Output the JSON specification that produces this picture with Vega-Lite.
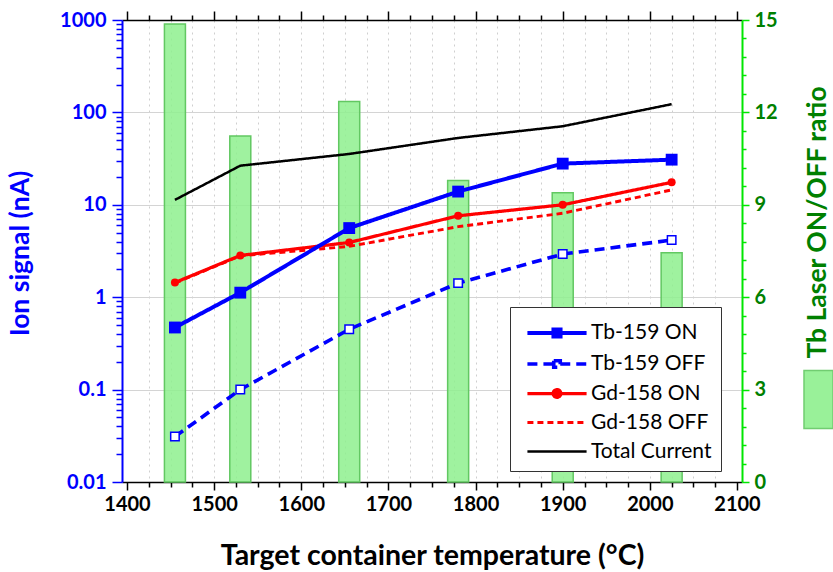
{
  "$schema": "https://vega.github.io/schema/vega-lite/v6.json",
  "width": 620,
  "height": 462,
  "autosize": {"type": "none"},
  "padding": {"left": 122, "top": 20, "right": 91, "bottom": 90},
  "background": "white",
  "config": {
    "font": "Lato",
    "view": {"stroke": null},
    "axis": {"labelFont": "Lato", "titleFont": "Lato"},
    "legend": {"labelFont": "Lato"}
  },
  "datasets": {
    "lines": [
      {"T": 1455, "series": "Tb-159 ON", "value": 0.47},
      {"T": 1530, "series": "Tb-159 ON", "value": 1.12},
      {"T": 1655, "series": "Tb-159 ON", "value": 5.6},
      {"T": 1780, "series": "Tb-159 ON", "value": 13.9},
      {"T": 1900, "series": "Tb-159 ON", "value": 27.9},
      {"T": 2025, "series": "Tb-159 ON", "value": 30.8},
      {"T": 1455, "series": "Tb-159 OFF", "value": 0.031},
      {"T": 1530, "series": "Tb-159 OFF", "value": 0.1},
      {"T": 1655, "series": "Tb-159 OFF", "value": 0.45},
      {"T": 1780, "series": "Tb-159 OFF", "value": 1.42},
      {"T": 1900, "series": "Tb-159 OFF", "value": 2.93},
      {"T": 2025, "series": "Tb-159 OFF", "value": 4.15},
      {"T": 1455, "series": "Gd-158 ON", "value": 1.44},
      {"T": 1530, "series": "Gd-158 ON", "value": 2.83},
      {"T": 1655, "series": "Gd-158 ON", "value": 3.91},
      {"T": 1780, "series": "Gd-158 ON", "value": 7.6},
      {"T": 1900, "series": "Gd-158 ON", "value": 10},
      {"T": 2025, "series": "Gd-158 ON", "value": 17.5},
      {"T": 1455, "series": "Gd-158 OFF", "value": 1.42},
      {"T": 1530, "series": "Gd-158 OFF", "value": 2.8},
      {"T": 1655, "series": "Gd-158 OFF", "value": 3.55},
      {"T": 1780, "series": "Gd-158 OFF", "value": 5.8},
      {"T": 1900, "series": "Gd-158 OFF", "value": 8.1},
      {"T": 2025, "series": "Gd-158 OFF", "value": 14.5},
      {"T": 1455, "series": "Total Current", "value": 11.3},
      {"T": 1530, "series": "Total Current", "value": 26.5},
      {"T": 1655, "series": "Total Current", "value": 35.5},
      {"T": 1780, "series": "Total Current", "value": 52.9},
      {"T": 1900, "series": "Total Current", "value": 70.8},
      {"T": 2025, "series": "Total Current", "value": 122.7}
    ],
    "ratio": [
      {"T": 1455, "ratio": 14.87},
      {"T": 1530, "ratio": 11.23},
      {"T": 1655, "ratio": 12.35},
      {"T": 1780, "ratio": 9.79},
      {"T": 1900, "ratio": 9.39},
      {"T": 2025, "ratio": 7.44}
    ]
  },
  "layer": [
    {
      "data": {"name": "ratio"},
      "mark": {"type": "bar", "orient": "vertical", "size": 21, "stroke": "#62c862", "strokeWidth": 1.5, "fillOpacity": 0.85},
      "encoding": {
        "x": {"field": "T", "type": "quantitative", "scale": {"domain": [1400, 2100], "nice": false, "zero": false}, "axis": null},
        "y": {
          "field": "ratio", "type": "quantitative",
          "scale": {"domain": [0, 15], "nice": false, "zero": true},
          "axis": {
            "orient": "right",
            "values": [0, 0.6, 1.2, 1.8, 2.4, 3, 3.6, 4.2, 4.8, 5.4, 6, 6.6, 7.2, 7.8, 8.4, 9, 9.6, 10.2, 10.8, 11.4, 12, 12.6, 13.2, 13.8, 14.4, 15],
            "format": "~g",
            "labelExpr": "datum.value % 3 === 0 ? datum.label : ''",
            "labelOverlap": false,
            "labelFlush": false,
            "tickSize": {"condition": {"test": "datum.value % 3 === 0", "value": 7}, "value": 4},
            "domainColor": "#00e600", "domainWidth": 2,
            "tickColor": "#00e600", "tickWidth": 1.5,
            "labelColor": "#008000", "labelFontSize": 20, "labelFontWeight": "bold", "labelPadding": 5,
            "grid": false,
            "title": "Tb Laser ON/OFF ratio",
            "titleColor": "#008000", "titleFontSize": 26.5, "titleFontWeight": "bold",
            "titleAngle": 270, "titleX": 75, "titleY": 202, "titleAlign": "center", "titleBaseline": "middle"
          }
        },
        "fill": {
          "datum": "Tb Laser ON/OFF ratio", "type": "nominal",
          "scale": {"range": ["#8ef08e"]},
          "legend": {
            "orient": "none", "legendX": 681, "legendY": 364, "title": null,
            "labelExpr": "''", "labelOffset": 0,
            "symbolType": "M-1,-2H1V2H-1Z", "symbolSize": 841,
            "symbolStrokeColor": "#62c862", "symbolStrokeWidth": 1.5, "symbolOpacity": 0.9,
            "padding": 0
          }
        }
      }
    },
    {
      "data": {"name": "lines"},
      "transform": [{"filter": "datum.series === 'Total Current'"}],
      "mark": {"type": "line"},
      "encoding": {
        "x": {
          "field": "T", "type": "quantitative",
          "scale": {"domain": [1400, 2100], "nice": false, "zero": false},
          "axis": {
            "orient": "bottom",
            "values": [1400, 1425, 1450, 1475, 1500, 1525, 1550, 1575, 1600, 1625, 1650, 1675, 1700, 1725, 1750, 1775, 1800, 1825, 1850, 1875, 1900, 1925, 1950, 1975, 2000, 2025, 2050, 2075, 2100],
            "format": "d",
            "labelExpr": "datum.value % 100 === 0 ? datum.label : ''",
            "labelFlush": false, "labelOverlap": false,
            "tickSize": {"condition": {"test": "datum.value % 100 === 0", "value": 8}, "value": 5},
            "tickColor": "black", "tickWidth": 1.5,
            "domainColor": "black", "domainWidth": 1.5,
            "grid": true, "gridDash": [2, 4], "gridColor": "#cfcfcf",
            "gridOpacity": {"condition": {"test": "datum.value > 1400 && datum.value < 2100", "value": 1}, "value": 0},
            "labelFontSize": 20, "labelFontWeight": "bold", "labelColor": "black", "labelPadding": 4,
            "title": "Target container temperature (°C)",
            "titleFontSize": 28.5, "titleFontWeight": "bold", "titleColor": "black",
            "titleY": 73, "titleBaseline": "middle"
          }
        },
        "y": {
          "field": "value", "type": "quantitative",
          "scale": {"type": "log", "domain": [0.01, 1000], "nice": false},
          "axis": {
            "orient": "left",
            "values": [0.01, 0.02, 0.03, 0.04, 0.05, 0.06, 0.07, 0.08, 0.09, 0.1, 0.2, 0.3, 0.4, 0.5, 0.6, 0.7, 0.8, 0.9, 1, 2, 3, 4, 5, 6, 7, 8, 9, 10, 20, 30, 40, 50, 60, 70, 80, 90, 100, 200, 300, 400, 500, 600, 700, 800, 900, 1000],
            "format": "~g",
            "labelExpr": "indexof([0.01, 0.1, 1, 10, 100, 1000], datum.value) >= 0 ? datum.label : ''",
            "labelOverlap": false, "labelFlush": false,
            "tickSize": {"condition": {"test": "indexof([0.01, 0.1, 1, 10, 100, 1000], datum.value) >= 0", "value": 10}, "value": 6},
            "grid": true, "gridColor": "#d4d4d4", "gridWidth": 1,
            "gridOpacity": {"condition": {"test": "indexof([0.1, 1, 10, 100], datum.value) >= 0", "value": 1}, "value": 0},
            "domainColor": "#0000ff", "domainWidth": 2,
            "tickColor": "#0000ff", "tickWidth": 1.5,
            "labelColor": "#0000ff", "labelFontSize": 20, "labelFontWeight": "bold", "labelPadding": 6,
            "title": "Ion signal (nA)",
            "titleColor": "#0000ff", "titleFontSize": 26.5, "titleFontWeight": "bold",
            "titleX": -102, "titleY": 233, "titleAngle": 270, "titleAlign": "center", "titleBaseline": "middle"
          }
        },
        "color": {
          "field": "series", "type": "nominal",
          "scale": {"domain": ["Tb-159 ON", "Tb-159 OFF", "Gd-158 ON", "Gd-158 OFF", "Total Current"], "range": ["#0000ff", "#0000ff", "#ff0000", "#ff0000", "#000000"]},
          "legend": {
            "orient": "none", "legendX": 388, "legendY": 287, "title": null,
            "direction": "vertical",
            "symbolType": "stroke", "symbolSize": 875, "symbolOpacity": 1,
            "labelFontSize": 21, "labelColor": "black", "labelOffset": 17,
            "padding": 9, "symbolOffset": 21,
            "strokeColor": "#333333", "fillColor": "white",
            "rowPadding": 2,
            "encode": {
              "symbols": {
                "update": {
                  "shape": [
                    {"test": "datum.value === 'Tb-159 ON'", "value": "M-2,0H2M-0.24,-0.24H0.24V0.24H-0.24Z"},
                    {"test": "datum.value === 'Tb-159 OFF'", "value": "M-2,0H-0.22M0.22,0H2M-0.22,-0.22H0.22V0.22H-0.22Z"},
                    {"test": "datum.value === 'Gd-158 ON'", "value": "M-2,0H-0.26M0.26,0H2M-0.26,0A0.26,0.26,0,1,0,0.26,0A0.26,0.26,0,1,0,-0.26,0Z"},
                    {"value": "M-2,0H2"}
                  ],
                  "fill": [
                    {"test": "datum.value === 'Tb-159 ON'", "value": "#0000ff"},
                    {"test": "datum.value === 'Tb-159 OFF'", "value": "#ffffff"},
                    {"test": "datum.value === 'Gd-158 ON'", "value": "#ff0000"},
                    {"value": "transparent"}
                  ],
                  "fillOpacity": {"value": 1}
                }
              }
            }
          }
        },
        "strokeDash": {
          "field": "series", "type": "nominal",
          "scale": {"domain": ["Tb-159 ON", "Tb-159 OFF", "Gd-158 ON", "Gd-158 OFF", "Total Current"], "range": [[1, 0], [10, 6], [1, 0], [6, 4], [1, 0]]}
        },
        "strokeWidth": {
          "field": "series", "type": "nominal",
          "scale": {"domain": ["Tb-159 ON", "Tb-159 OFF", "Gd-158 ON", "Gd-158 OFF", "Total Current"], "range": [4, 2.5, 1.5, 1.2, 2]}
        }
      }
    },
    {
      "data": {"name": "lines"},
      "transform": [{"filter": "datum.series === 'Gd-158 OFF'"}],
      "mark": {"type": "line"},
      "encoding": {
        "x": {
          "field": "T", "type": "quantitative",
          "scale": {"domain": [1400, 2100], "nice": false, "zero": false},
          "axis": {
            "orient": "top",
            "values": [1400, 1425, 1450, 1475, 1500, 1525, 1550, 1575, 1600, 1625, 1650, 1675, 1700, 1725, 1750, 1775, 1800, 1825, 1850, 1875, 1900, 1925, 1950, 1975, 2000, 2025, 2050, 2075, 2100],
            "labels": false, "title": null, "grid": false,
            "tickSize": {"condition": {"test": "datum.value % 100 === 0", "value": 9}, "value": 5},
            "tickColor": "black", "tickWidth": 1.5,
            "domainColor": "black", "domainWidth": 1.5
          }
        },
        "y": {"field": "value", "type": "quantitative", "scale": {"type": "log", "domain": [0.01, 1000], "nice": false}, "axis": null},
        "color": {"field": "series", "type": "nominal"},
        "strokeDash": {"field": "series", "type": "nominal"},
        "strokeWidth": {"field": "series", "type": "nominal"}
      }
    },
    {
      "data": {"name": "lines"},
      "transform": [{"filter": "datum.series === 'Gd-158 ON'"}],
      "mark": {"type": "line"},
      "encoding": {
        "x": {"field": "T", "type": "quantitative", "scale": {"domain": [1400, 2100], "nice": false, "zero": false}, "axis": null},
        "y": {"field": "value", "type": "quantitative", "scale": {"type": "log", "domain": [0.01, 1000], "nice": false}, "axis": null},
        "color": {"field": "series", "type": "nominal"},
        "strokeDash": {"field": "series", "type": "nominal"},
        "strokeWidth": {"field": "series", "type": "nominal"}
      }
    },
    {
      "data": {"name": "lines"},
      "transform": [{"filter": "datum.series === 'Tb-159 OFF'"}],
      "mark": {"type": "line"},
      "encoding": {
        "x": {"field": "T", "type": "quantitative", "scale": {"domain": [1400, 2100], "nice": false, "zero": false}, "axis": null},
        "y": {"field": "value", "type": "quantitative", "scale": {"type": "log", "domain": [0.01, 1000], "nice": false}, "axis": null},
        "color": {"field": "series", "type": "nominal"},
        "strokeDash": {"field": "series", "type": "nominal"},
        "strokeWidth": {"field": "series", "type": "nominal"}
      }
    },
    {
      "data": {"name": "lines"},
      "transform": [{"filter": "datum.series === 'Tb-159 ON'"}],
      "mark": {"type": "line"},
      "encoding": {
        "x": {"field": "T", "type": "quantitative", "scale": {"domain": [1400, 2100], "nice": false, "zero": false}, "axis": null},
        "y": {"field": "value", "type": "quantitative", "scale": {"type": "log", "domain": [0.01, 1000], "nice": false}, "axis": null},
        "color": {"field": "series", "type": "nominal"},
        "strokeDash": {"field": "series", "type": "nominal"},
        "strokeWidth": {"field": "series", "type": "nominal"}
      }
    },
    {
      "data": {"name": "lines"},
      "transform": [{"filter": "datum.series === 'Gd-158 ON'"}],
      "mark": {"type": "point", "shape": "circle", "size": 64, "filled": true, "color": "#ff0000", "opacity": 1},
      "encoding": {
        "x": {"field": "T", "type": "quantitative", "scale": {"domain": [1400, 2100], "nice": false, "zero": false}, "axis": null},
        "y": {"field": "value", "type": "quantitative", "scale": {"type": "log", "domain": [0.01, 1000], "nice": false}, "axis": null}
      }
    },
    {
      "data": {"name": "lines"},
      "transform": [{"filter": "datum.series === 'Tb-159 OFF'"}],
      "mark": {"type": "point", "shape": "square", "size": 72, "filled": true, "fill": "#ffffff", "stroke": "#0000ff", "strokeWidth": 1.5, "opacity": 1},
      "encoding": {
        "x": {"field": "T", "type": "quantitative", "scale": {"domain": [1400, 2100], "nice": false, "zero": false}, "axis": null},
        "y": {"field": "value", "type": "quantitative", "scale": {"type": "log", "domain": [0.01, 1000], "nice": false}, "axis": null}
      }
    },
    {
      "data": {"name": "lines"},
      "transform": [{"filter": "datum.series === 'Tb-159 ON'"}],
      "mark": {"type": "point", "shape": "square", "size": 140, "filled": true, "color": "#0000ff", "opacity": 1},
      "encoding": {
        "x": {"field": "T", "type": "quantitative", "scale": {"domain": [1400, 2100], "nice": false, "zero": false}, "axis": null},
        "y": {"field": "value", "type": "quantitative", "scale": {"type": "log", "domain": [0.01, 1000], "nice": false}, "axis": null}
      }
    }
  ],
  "resolve": {
    "scale": {"y": "independent"},
    "axis": {"x": "independent", "y": "independent"}
  }
}
